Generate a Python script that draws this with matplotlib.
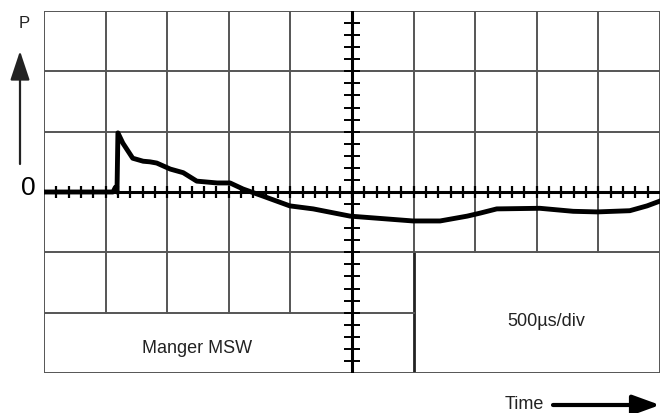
import numpy as np
import matplotlib
matplotlib.use("Agg")
import matplotlib.pyplot as plt

plt.rcParams['font.family'] = ['Liberation Sans', 'DejaVu Sans']

# trace, in divisions (time 0..10, pressure -3..3)
t_div = [0.0, 1.12, 1.16, 1.185, 1.20, 1.28, 1.44, 1.61, 1.72, 1.83, 2.05, 2.26,
         2.48, 2.81, 3.02, 3.23, 3.56, 3.99, 4.37, 4.97, 5.99, 6.43, 6.87, 7.08,
         7.35, 8.05, 8.59, 8.98, 9.51, 9.79, 10.0]
p_div = [0.0, 0.0, 0.08, 0.0, 0.98, 0.81, 0.56, 0.51, 0.50, 0.48, 0.38, 0.32,
         0.18, 0.15, 0.15, 0.05, -0.07, -0.23, -0.28, -0.40, -0.48, -0.48, -0.40, -0.35,
         -0.28, -0.27, -0.32, -0.33, -0.31, -0.23, -0.15]

label_left = "Manger MSW"
label_right = "500\u00b5s/div"

fig = plt.figure(figsize=(6.7, 4.14), dpi=100)
ax = fig.add_axes([44/670, 40/414, 616/670, 362/414])
ax.set_xlim(0, 10)
ax.set_ylim(-3, 3)
ax.axis("off")

gc = "#555555"
lw = 1.4
# grid
for x in range(1, 5):
    ax.plot([x, x], [-2, 3], color=gc, lw=lw)
for x in range(7, 10):
    ax.plot([x, x], [-1, 3], color=gc, lw=lw)
ax.plot([6, 6], [-1, 3], color=gc, lw=lw)
ax.plot([6, 6], [-3, -1], color="#222222", lw=2)
for y in (1, 2, -1):
    ax.plot([0, 10], [y, y], color=gc, lw=lw)
ax.plot([0, 6], [-2, -2], color=gc, lw=lw)
ax.plot([0, 10, 10, 0, 0], [-3, -3, 3, 3, -3], color=gc, lw=lw)

# centre axes with minor ticks
ax.plot([0, 10], [0, 0], color="black", lw=2.2)
ax.plot([5, 5], [-3, 3], color="black", lw=2.2)
mt = np.arange(0.2, 10, 0.2)
ax.plot(mt, np.zeros_like(mt), ls="none", marker="|", ms=9, mew=1.6, color="black")
mv = np.arange(-2.8, 3, 0.2)
ax.plot(np.full_like(mv, 5), mv, ls="none", marker="_", ms=12, mew=1.4, color="black")

# trace
ax.plot(t_div, p_div, color="black", lw=3.5, solid_joinstyle="round")

ax.text(2.48, -2.58, label_left, ha="center", va="center", fontsize=13, color="#222222")
ax.text(8.15, -2.13, label_right, ha="center", va="center", fontsize=13, color="#222222")

# annotations outside the screen
fig.text(24/670, 1 - 24/414, "P", ha="center", va="center", fontsize=12, color="#222222")
fig.text(28/670, 1 - 188/414, "0", ha="center", va="center", fontsize=19, color="black")
fig.add_artist(matplotlib.patches.FancyArrowPatch(
    (20/670, 1 - 165/414), (20/670, 1 - 52/414), transform=fig.transFigure,
    arrowstyle="-|>,head_length=6,head_width=2", mutation_scale=3,
    color="#222222", lw=1.6, shrinkA=0, shrinkB=0))
fig.text(524/670, 1 - 405/414, "Time", ha="center", va="center", fontsize=13, color="#222222")
fig.add_artist(matplotlib.patches.FancyArrowPatch(
    (553/670, 1 - 406/414), (660/670, 1 - 406/414), transform=fig.transFigure,
    arrowstyle="-|>,head_length=5.5,head_width=2", mutation_scale=3,
    color="black", lw=3, shrinkA=0, shrinkB=0))

fig.savefig("out.png", dpi=100)
